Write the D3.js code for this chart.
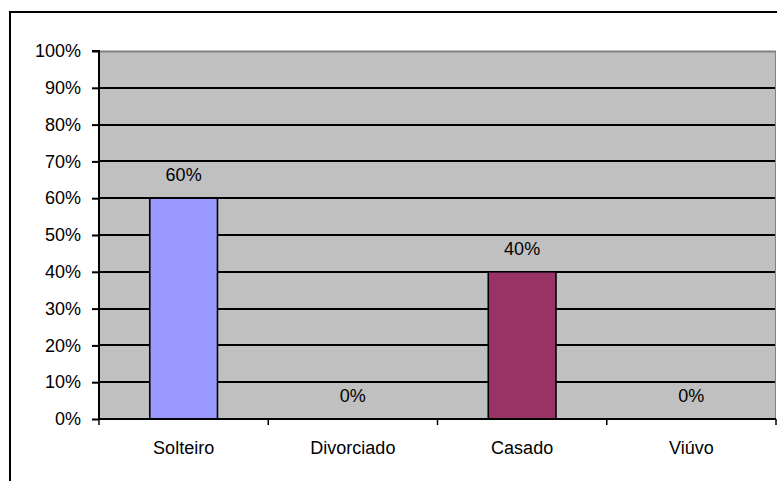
<!DOCTYPE html>
<html>
<head>
<meta charset="utf-8">
<script src="https://cdn.jsdelivr.net/npm/d3@7"></script>
<style>
  html, body { margin: 0; padding: 0; background: #fff; }
  svg { display: block; }
</style>
</head>
<body>
<svg id="chart" width="777" height="481"></svg>
<script>
const categories = ["Solteiro", "Divorciado", "Casado", "Viúvo"];
const values = [0.60, 0, 0.40, 0];
const barColors = ["#9999FF", "#9999FF", "#993366", "#993366"];
const yTicks = [0, 0.1, 0.2, 0.3, 0.4, 0.5, 0.6, 0.7, 0.8, 0.9, 1.0];

const svg = d3.select("#chart");
const W = 777, H = 481;
const M = { left: 99, top: 51, right: 776, bottom: 419 };
const font = "Liberation Sans, Arial, sans-serif";
const pct = d3.format(".0%");

// outer chart frame (cropped on right / bottom)
svg.append("rect")
  .attr("x", 10).attr("y", 12)
  .attr("width", W + 20).attr("height", H + 20)
  .attr("fill", "#fff").attr("stroke", "#000").attr("stroke-width", 2);

const x = d3.scaleBand().domain(categories).range([M.left, M.right]).paddingInner(0).paddingOuter(0);
const y = d3.scaleLinear().domain([0, 1]).range([M.bottom, M.top]);

// plot background
svg.append("rect")
  .attr("x", M.left).attr("y", M.top)
  .attr("width", M.right - M.left).attr("height", M.bottom - M.top)
  .attr("fill", "#C0C0C0");

// gridlines
svg.append("g").selectAll("line").data(yTicks.slice(1, -1)).enter().append("line")
  .attr("x1", M.left).attr("x2", M.right)
  .attr("y1", d => Math.round(y(d))).attr("y2", d => Math.round(y(d)))
  .attr("stroke", "#000").attr("stroke-width", 2);

// top border of plot
svg.append("line")
  .attr("x1", M.left).attr("x2", M.right)
  .attr("y1", M.top + 0.5).attr("y2", M.top + 0.5)
  .attr("stroke", "#808080").attr("stroke-width", 2);
svg.append("line")
  .attr("x1", M.right - 0.5).attr("x2", M.right - 0.5)
  .attr("y1", M.top).attr("y2", M.bottom)
  .attr("stroke", "#808080").attr("stroke-width", 1);

// bars
const bw = x.bandwidth() / 2.5;
svg.append("g").selectAll("rect").data(values).enter().append("rect")
  .attr("x", (d, i) => x(categories[i]) + x.bandwidth() / 2 - bw / 2)
  .attr("y", d => y(d))
  .attr("width", bw)
  .attr("height", d => y(0) - y(d))
  .attr("fill", (d, i) => barColors[i])
  .attr("stroke", "#000").attr("stroke-width", 1.6)
  .attr("display", d => d > 0 ? null : "none");

// value labels
svg.append("g").selectAll("text").data(values).enter().append("text")
  .attr("x", (d, i) => x(categories[i]) + x.bandwidth() / 2)
  .attr("y", d => y(d) - 17)
  .attr("text-anchor", "middle")
  .attr("font-family", font).attr("font-size", 18).attr("fill", "#000")
  .text(d => pct(d));

// y axis
const yAxis = d3.axisLeft(y).tickValues(yTicks).tickFormat(pct).tickSize(7).tickPadding(11);
const gy = svg.append("g").attr("transform", `translate(${M.left},0)`).call(yAxis);
gy.select(".domain").attr("stroke", "#000").attr("stroke-width", 2).attr("d", `M-7,${M.top}H0V${M.bottom}`);
gy.selectAll(".tick line").attr("stroke", "#000").attr("stroke-width", 2);
gy.selectAll(".tick text").attr("font-family", font).attr("font-size", 18).attr("fill", "#000");

// x axis
const xAxis = d3.axisBottom(x).tickSize(0).tickPadding(22);
const gx = svg.append("g").attr("transform", `translate(0,${M.bottom})`).call(xAxis);
gx.select(".domain").attr("stroke", "#000").attr("stroke-width", 2).attr("d", `M${M.left},0H${M.right}`);
gx.selectAll(".tick text").attr("font-family", font).attr("font-size", 18).attr("fill", "#000");
gx.append("g").selectAll("line").data(categories.concat([null])).enter().append("line")
  .attr("x1", (d, i) => M.left + i * x.bandwidth()).attr("x2", (d, i) => M.left + i * x.bandwidth())
  .attr("y1", 0).attr("y2", 6)
  .attr("stroke", "#000").attr("stroke-width", 1.5);
</script>
</body>
</html>
